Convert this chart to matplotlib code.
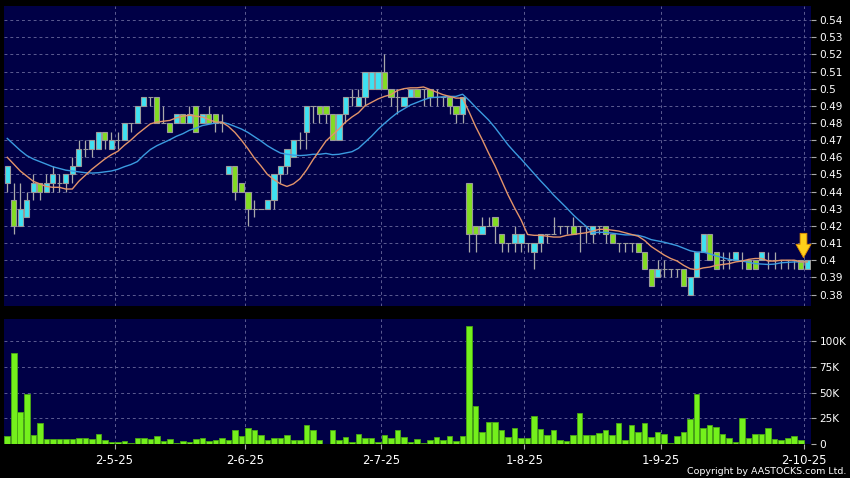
import numpy as np
import pandas as pd
import matplotlib
matplotlib.use("Agg")
import matplotlib.pyplot as plt
from matplotlib.path import Path

# ---------------- data ----------------
opens = [0.445, 0.435, 0.42, 0.425, 0.44, 0.445, 0.44, 0.445, 0.445, 0.445,
         0.45, 0.455, 0.465, 0.465, 0.465, 0.475, 0.465, 0.47, 0.47, 0.48,
         0.48, 0.49, 0.495, 0.495, 0.48, 0.48, 0.48, 0.485, 0.48, 0.49,
         0.48, 0.485, 0.485, 0.48, 0.45, 0.455, 0.445, 0.44, 0.43, 0.43,
         0.43, 0.435, 0.45, 0.455, 0.46, 0.47, 0.475, 0.49, 0.49, 0.49,
         0.485, 0.47, 0.485, 0.495, 0.49, 0.495, 0.50, 0.50, 0.51, 0.50,
         0.495, 0.49, 0.495, 0.50, 0.50, 0.50, 0.495, 0.495, 0.495, 0.49,
         0.485, 0.445, 0.42, 0.415, 0.42, 0.425, 0.415, 0.41, 0.41, 0.41,
         0.41, 0.405, 0.41, 0.415, 0.415, 0.42, 0.42, 0.42, 0.42, 0.42,
         0.415, 0.42, 0.42, 0.415, 0.41, 0.41, 0.41, 0.41, 0.405, 0.395,
         0.39, 0.395, 0.395, 0.395, 0.395, 0.38, 0.39, 0.405, 0.415, 0.405,
         0.40, 0.40, 0.40, 0.40, 0.40, 0.40, 0.40, 0.40, 0.40, 0.40,
         0.40, 0.40, 0.40, 0.395]
highs = [0.455, 0.445, 0.445, 0.44, 0.45, 0.445, 0.45, 0.455, 0.45, 0.45,
         0.46, 0.47, 0.47, 0.47, 0.475, 0.475, 0.475, 0.475, 0.48, 0.48,
         0.49, 0.495, 0.495, 0.495, 0.49, 0.48, 0.485, 0.485, 0.49, 0.49,
         0.485, 0.49, 0.485, 0.485, 0.455, 0.455, 0.445, 0.44, 0.435, 0.43,
         0.435, 0.45, 0.455, 0.465, 0.47, 0.475, 0.49, 0.49, 0.49, 0.49,
         0.485, 0.485, 0.495, 0.50, 0.50, 0.51, 0.51, 0.51, 0.52, 0.50,
         0.50, 0.495, 0.50, 0.50, 0.50, 0.50, 0.50, 0.495, 0.495, 0.49,
         0.495, 0.445, 0.42, 0.425, 0.425, 0.425, 0.415, 0.41, 0.42, 0.415,
         0.41, 0.41, 0.415, 0.415, 0.425, 0.42, 0.42, 0.425, 0.42, 0.42,
         0.42, 0.42, 0.42, 0.415, 0.41, 0.41, 0.41, 0.41, 0.405, 0.395,
         0.40, 0.40, 0.395, 0.395, 0.395, 0.39, 0.405, 0.415, 0.415, 0.405,
         0.405, 0.405, 0.405, 0.405, 0.40, 0.40, 0.405, 0.405, 0.405, 0.40,
         0.40, 0.40, 0.40, 0.40]
lows = [0.44, 0.415, 0.42, 0.425, 0.435, 0.435, 0.44, 0.44, 0.44, 0.44,
        0.445, 0.455, 0.46, 0.46, 0.465, 0.465, 0.465, 0.465, 0.47, 0.475,
        0.48, 0.49, 0.49, 0.48, 0.48, 0.475, 0.48, 0.48, 0.48, 0.475,
        0.48, 0.48, 0.475, 0.475, 0.45, 0.435, 0.44, 0.42, 0.425, 0.43,
        0.43, 0.43, 0.445, 0.45, 0.46, 0.465, 0.465, 0.48, 0.48, 0.48,
        0.47, 0.47, 0.48, 0.49, 0.49, 0.49, 0.50, 0.50, 0.50, 0.49,
        0.485, 0.49, 0.495, 0.495, 0.49, 0.49, 0.49, 0.49, 0.485, 0.48,
        0.48, 0.405, 0.405, 0.415, 0.42, 0.41, 0.405, 0.405, 0.405, 0.405,
        0.405, 0.395, 0.405, 0.41, 0.415, 0.415, 0.415, 0.415, 0.405, 0.41,
        0.41, 0.415, 0.41, 0.41, 0.405, 0.405, 0.405, 0.405, 0.395, 0.385,
        0.39, 0.39, 0.39, 0.39, 0.385, 0.38, 0.39, 0.405, 0.40, 0.395,
        0.395, 0.395, 0.40, 0.395, 0.395, 0.395, 0.40, 0.395, 0.395, 0.395,
        0.395, 0.395, 0.395, 0.395]
closes = [0.455, 0.42, 0.43, 0.435, 0.445, 0.44, 0.445, 0.45, 0.445, 0.45,
          0.455, 0.465, 0.465, 0.47, 0.475, 0.47, 0.47, 0.47, 0.48, 0.48,
          0.49, 0.495, 0.495, 0.48, 0.48, 0.475, 0.485, 0.48, 0.485, 0.475,
          0.485, 0.48, 0.48, 0.48, 0.455, 0.44, 0.44, 0.43, 0.43, 0.43,
          0.435, 0.45, 0.455, 0.465, 0.47, 0.47, 0.49, 0.49, 0.485, 0.485,
          0.47, 0.485, 0.495, 0.495, 0.495, 0.51, 0.51, 0.51, 0.50, 0.495,
          0.495, 0.495, 0.50, 0.495, 0.50, 0.495, 0.495, 0.495, 0.49, 0.485,
          0.495, 0.415, 0.415, 0.42, 0.42, 0.42, 0.41, 0.41, 0.415, 0.415,
          0.41, 0.41, 0.415, 0.415, 0.415, 0.42, 0.42, 0.415, 0.42, 0.42,
          0.42, 0.42, 0.415, 0.41, 0.41, 0.41, 0.41, 0.405, 0.395, 0.385,
          0.395, 0.395, 0.395, 0.395, 0.385, 0.39, 0.405, 0.415, 0.40, 0.395,
          0.40, 0.40, 0.405, 0.40, 0.395, 0.395, 0.405, 0.40, 0.40, 0.40,
          0.40, 0.40, 0.395, 0.40]
volumes_k = [8, 88.6, 31, 49, 9, 20, 5, 5, 5, 5,
             5, 5.5, 5.5, 5, 10, 4, 2, 1.5, 3, 1.3,
             6, 6, 5, 8, 3, 5, 1.3, 3, 1.5, 5,
             6, 3, 3.5, 6, 4, 14, 7.5, 15.5, 14, 9,
             3.5, 6, 6, 9, 3.5, 4, 18, 14, 4, 0.3,
             13.5, 3.5, 7, 1.5, 9.5, 6, 5.5, 1.5, 9, 5.5,
             14, 6.5, 2, 5, 1, 4, 6.5, 3.5, 8, 3,
             8, 115, 37, 12, 21.5, 21.5, 14, 7, 16, 6,
             6, 27, 15, 9, 14, 4, 3, 9, 30, 9,
             9, 10.5, 13.5, 8.5, 20, 4, 18, 11.5, 20, 7,
             11.5, 10, 1, 8, 12, 24, 49, 16, 18.5, 16.5,
             10, 5.5, 2, 25, 6, 10, 10, 15.5, 5, 4,
             6, 8, 4, 0]
# moving-average values before enough history exists in the window
ma10_head = [0.460, 0.456, 0.452, 0.449, 0.446, 0.4445, 0.443, 0.4425, 0.4425]
ma20_head = [0.471, 0.4675, 0.464, 0.461, 0.459, 0.4575, 0.456, 0.4545, 0.4535,
             0.4525, 0.452, 0.4515, 0.451, 0.4508, 0.451, 0.4515, 0.452, 0.453, 0.4545]
date_labels = ["2-5-25", "2-6-25", "2-7-25", "1-8-25", "1-9-25", "2-10-25"]
date_index = [17, 37, 58, 80, 101, 123]
price_ticks = [0.38, 0.39, 0.40, 0.41, 0.42, 0.43, 0.44, 0.45, 0.46,
               0.47, 0.48, 0.49, 0.50, 0.51, 0.52, 0.53, 0.54]
vol_ticks_k = [0, 25, 50, 75, 100]

# ---------------- derived series ----------------
o = np.array(opens); h = np.array(highs); l = np.array(lows); c = np.array(closes)
n = len(c)
x = np.arange(n)
ma10 = pd.Series(c).rolling(10).mean().to_numpy()
ma10[:len(ma10_head)] = ma10_head
ma20 = pd.Series(c).rolling(20).mean().to_numpy()
ma20[:len(ma20_head)] = ma20_head
vol = np.array(volumes_k) * 1000

# ---------------- style ----------------
BG = "#000046"
GRID = "#5c5c92"
CYAN = "#3ee2f2"
GREEN = "#82dc22"
VGREEN = "#74f01c"
WICK = "#a9a9a9"
EDGE = "#9a9a9a"
TXT = "white"

fig = plt.figure(figsize=(8.5, 4.78), dpi=100, facecolor="black")
W, H = 850, 478
axp = fig.add_axes([4 / W, (H - 306) / H, 806.5 / W, 300 / H], facecolor=BG)
axv = fig.add_axes([4 / W, (H - 444) / H, 806.5 / W, 125 / H], facecolor=BG, sharex=axp)

grid_x = np.array(date_index) - 0.5
for ax in (axp, axv):
    for s in ax.spines.values():
        s.set_visible(False)
    for gx in grid_x:
        ax.axvline(gx, color=GRID, lw=0.7, ls=(0, (3, 3)), zorder=0)

# ---- price panel ----
for yv in price_ticks:
    axp.axhline(yv, color=GRID, lw=0.7, ls=(0, (3, 3)), zorder=0)

axp.vlines(x, l, h, color=WICK, lw=0.9, zorder=2)
face = np.where(c > o, CYAN, np.where(c < o, GREEN, "none"))
axp.bar(x, np.abs(c - o), bottom=np.minimum(o, c), width=0.8,
        color=face, edgecolor=EDGE, linewidth=0.8, zorder=3)
axp.plot(x, ma20, color="#3b9be0", lw=1.0, zorder=4)
axp.plot(x, ma10, color="#e3946a", lw=1.0, zorder=5)

# down arrow marking the latest bar
arrow = Path([(-0.28, 1), (0.28, 1), (0.28, 0.1), (0.62, 0.1), (0, -1),
              (-0.62, 0.1), (-0.28, 0.1), (-0.28, 1)],
             [Path.MOVETO] + [Path.LINETO] * 6 + [Path.CLOSEPOLY])
axp.plot([n - 1.6], [h[-1] + 0.0086], marker=arrow, markersize=17.5,
         color="#ffcf1a", markeredgecolor="#e08a00", markeredgewidth=0.6, zorder=6)

axp.set_xlim(-0.5, n - 0.5)
axp.set_ylim(0.3733, 0.5482)
axp.yaxis.tick_right()
axp.set_yticks(price_ticks)
axp.set_yticklabels([f"{round(v, 2):g}" for v in price_ticks])
axp.tick_params(axis="y", colors=TXT, labelsize=7.6, length=3.5, width=0.8,
                pad=3, color="#aaaaaa")
axp.tick_params(axis="x", bottom=False, labelbottom=False)

# ---- volume panel ----
for yv in vol_ticks_k:
    if yv > 0:
        axv.axhline(yv * 1000, color=GRID, lw=0.7, ls=(0, (3, 3)), zorder=0)
axv.bar(x, vol, width=0.85, color=VGREEN, edgecolor="#4aa814", linewidth=0.6, zorder=3)
axv.set_ylim(0, 121500)
axv.yaxis.tick_right()
axv.set_yticks([v * 1000 for v in vol_ticks_k])
axv.set_yticklabels([f"{v}K" if v else "0" for v in vol_ticks_k])
axv.tick_params(axis="y", colors=TXT, labelsize=7.6, length=3.5, width=0.8,
                pad=3, color="#aaaaaa")
axv.set_xticks(grid_x)
axv.set_xticklabels(date_labels)
axv.tick_params(axis="x", colors=TXT, labelsize=8.4, length=3.5, width=0.8,
                pad=4, color="#aaaaaa")

fig.text(846 / W, (H - 471) / H, "Copyright by AASTOCKS.com Ltd.", color=TXT,
         fontsize=6.8, ha="right", va="center")

fig.savefig("out.png", dpi=100, facecolor="black")
